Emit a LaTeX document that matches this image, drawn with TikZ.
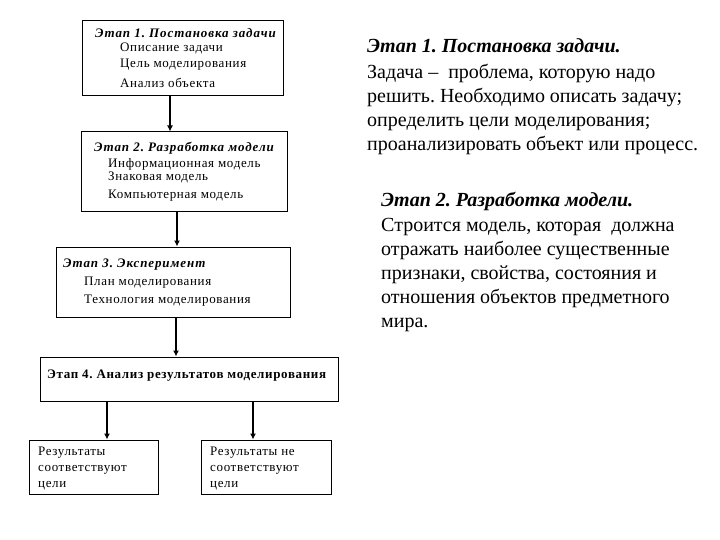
\documentclass[tikz,border=0pt]{standalone}
\usepackage{fontspec}
\setmainfont{Liberation Serif}
\usepackage{tikz}
\usetikzlibrary{arrows.meta,positioning}
\frenchspacing

\tikzset{
	stagebox/.style = {
			draw, rectangle,
			line width = 1pt,
			inner sep  = 0pt,
		},
	boxtext/.style = {
			anchor = base west, inner sep = 0pt,
			font   = \fontsize{13}{15}\selectfont\addfontfeature{LetterSpace=5},
		},
	boxtitle/.style = {
			boxtext,
			font = \fontsize{13}{15}\selectfont\bfseries\itshape\addfontfeature{LetterSpace=7},
		},
	sidetext/.style = {
			anchor = base west, inner sep = 0pt,
			font   = \fontsize{20}{24}\selectfont,
		},
	sidetitle/.style = {
			sidetext,
			font = \fontsize{20}{24}\selectfont\bfseries\itshape,
		},
	arr/.style = {
			line width = 1.6pt,
			-{Latex[length=6pt,width=6pt]},
		},
}

\begin{document}
\begin{tikzpicture}[x=1pt,y=-1pt]
		\useasboundingbox (0,0) rectangle (720,540);

		\node[stagebox, minimum width=201pt, minimum height=75pt] at (182.5,58.5) (stageone) {};
		\node[stagebox, minimum width=206pt, minimum height=80pt] at (184,172) (stagetwo) {};
		\node[stagebox, minimum width=234pt, minimum height=70pt] at (173,282) (stagethree) {};
		\node[stagebox, minimum width=298pt, minimum height=44pt] at (189,379) (stagefour) {};
		\node[stagebox, minimum width=129pt, minimum height=54pt] at (93.5,467) (resyes) {};
		\node[stagebox, minimum width=130pt, minimum height=54pt] at (266,467) (resno) {};

		% stage 1
		\node[boxtitle] at (95,38) (titleone) {Этап 1. Постановка задачи};
		\node[boxtext] at (120,52) (descr) {Описание задачи};
		\node[boxtext] at (120,68) (goal) {Цель моделирования};
		\node[boxtext] at (120,88) (objanalysis) {Анализ объекта};

		% stage 2
		\node[boxtitle] at (94,152) (titletwo) {Этап 2. Разработка модели};
		\node[boxtext] at (108,168) (infomodel) {Информационная модель};
		\node[boxtext] at (108,181) (signmodel) {Знаковая модель};
		\node[boxtext] at (108,199) (compmodel) {Компьютерная модель};

		% stage 3
		\node[boxtitle] at (63,267) (titlethree) {Этап 3. Эксперимент};
		\node[boxtext] at (84,285) (plan) {План моделирования};
		\node[boxtext] at (84,303) (technology) {Технология моделирования};

		% stage 4
		\node[boxtext, font=\fontsize{13}{15}\selectfont\bfseries\addfontfeature{LetterSpace=5}] at (47,378) (titlefour) {Этап 4. Анализ результатов моделирования};

		\node[boxtext] at (38,455) (yesa) {Результаты};
		\node[boxtext] at (38,471) (yesb) {соответствуют};
		\node[boxtext] at (38,487) (yesc) {цели};
		\node[boxtext] at (210,455) (noa) {Результаты не};
		\node[boxtext] at (210,471) (nob) {соответствуют};
		\node[boxtext] at (210,487) (noc) {цели};

		% text on the right
		\node[sidetitle] at (367,53) (sideone) {Этап 1. Постановка задачи.};
		\node[sidetext] at (367,79) (sideonea) {Задача –\ \ проблема, которую надо};
		\node[sidetext] at (367,103) (sideoneb) {решить. Необходимо описать задачу;};
		\node[sidetext] at (367,127) (sideonec) {определить цели моделирования;};
		\node[sidetext] at (367,151) (sideoned) {проанализировать объект или процесс.};

		\node[sidetitle] at (381,207) (sidetwo) {Этап 2. Разработка модели.};
		\node[sidetext] at (381,232) (sidetwoa) {Строится модель, которая\ \ должна};
		\node[sidetext] at (381,255) (sidetwob) {отражать наиболее существенные};
		\node[sidetext] at (381,279) (sidetwoc) {признаки, свойства, состояния и};
		\node[sidetext] at (381,303) (sidetwod) {отношения объектов предметного};
		\node[sidetext] at (381,327) (sidetwoe) {мира.};

		\draw[arr] ([xshift=-12.5pt]stageone.south) -- ([xshift=-14pt]stagetwo.north);
		\draw[arr] ([xshift=-7pt]stagetwo.south) -- ([xshift=4pt]stagethree.north);
		\draw[arr] ([xshift=3pt]stagethree.south) -- ([xshift=-13pt]stagefour.north);
		\draw[arr] ([xshift=-82pt]stagefour.south) -- ([xshift=13.5pt]resyes.north);
		\draw[arr] ([xshift=64pt]stagefour.south) -- ([xshift=-13pt]resno.north);
	\end{tikzpicture}
\end{document}
